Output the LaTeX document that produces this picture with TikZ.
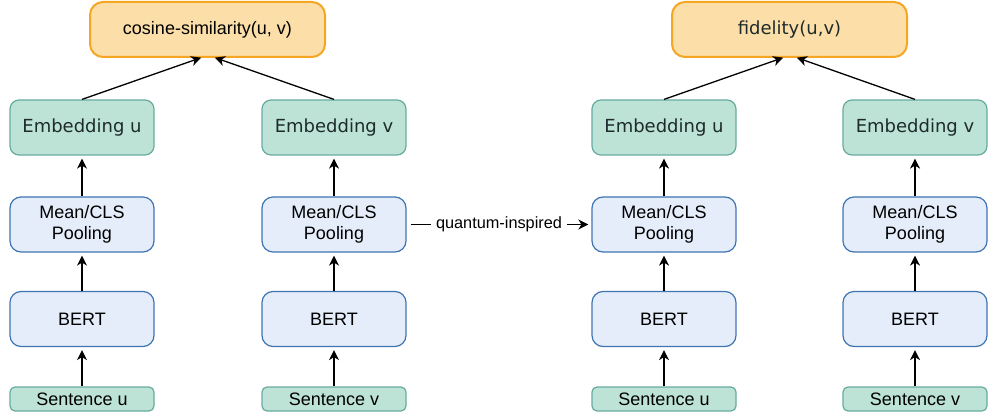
\documentclass[tikz,border=0pt]{standalone}
\usepackage{fontspec}
\setmainfont{Liberation Sans}
\newfontfamily\dejavu{DejaVu Sans}
\usetikzlibrary{arrows.meta}
\definecolor{embfill}{HTML}{BDE3D6}
\definecolor{embdraw}{HTML}{67AB9F}
\definecolor{poolfill}{HTML}{E5EDFA}
\definecolor{pooldraw}{HTML}{3F74B3}
\definecolor{topfill}{HTML}{FCDEA8}
\definecolor{topdraw}{HTML}{F5A623}
\definecolor{embtext}{HTML}{1E2B2B}
\tikzset{
  embbox/.style={draw=embdraw, fill=embfill, line width=1.2pt, rounded corners=9pt,
    minimum width=144pt, minimum height=55pt, inner sep=0pt, font=\dejavu\fontsize{18}{21}\selectfont, text=embtext},
  poolbox/.style={draw=pooldraw, fill=poolfill, line width=1.2pt, rounded corners=11pt,
    minimum width=144pt, minimum height=55pt, inner sep=0pt, align=center, font=\fontsize{18}{21.5}\selectfont},
  sentbox/.style={draw=embdraw, fill=embfill, line width=1.2pt, rounded corners=5pt,
    minimum width=144pt, minimum height=24pt, inner sep=0pt, font=\fontsize{18}{21}\selectfont},
  topbox/.style={draw=topdraw, fill=topfill, line width=2pt, rounded corners=13pt,
    minimum width=235pt, minimum height=55pt, inner sep=0pt},
  arr/.style={-{Stealth[length=10pt,width=10pt,inset=3pt]}, line width=1.6pt, shorten >=3pt},
  darr/.style={-{Stealth[length=10pt,width=10pt,inset=3pt]}, line width=1.3pt, shorten >=2pt},
}
\begin{document}
\begin{tikzpicture}[x=1pt,y=-1pt]
\useasboundingbox (0,0) rectangle (988,414);
% top nodes
\node[topbox, font=\fontsize{18}{21}\selectfont] (cos) at (207.5,29.5) {cosine-similarity(u, v)};
\node[topbox, font=\dejavu\fontsize{18}{21}\selectfont, text=embtext] (fid) at (789.5,29.5) {fidelity(u,v)};
% columns
\foreach \n/\x/\l in {a/82/u, b/334/v, c/664/u, d/915/v}{
  \node[embbox] (emb\n) at (\x,127.5) {Embedding \l};
  \node[poolbox] (pool\n) at (\x,224.5) {Mean/CLS\\Pooling};
  \node[poolbox] (bert\n) at (\x,319) {BERT};
  \node[sentbox] (sent\n) at (\x,399) {Sentence \l};
  \draw[arr] (sent\n) -- (bert\n);
  \draw[arr] (bert\n) -- (pool\n);
  \draw[arr] (pool\n) -- (emb\n);
}
\coordinate (cosl) at (203,57);
\coordinate (cosr) at (213,57);
\coordinate (fidl) at (785,57);
\coordinate (fidr) at (795,57);
\draw[darr] (emba.north) -- (cosl);
\draw[darr] (embb.north) -- (cosr);
\draw[darr] (embc.north) -- (fidl);
\draw[darr] (embd.north) -- (fidr);
\draw[arr, shorten <=4pt] (poolb.east) -- node[fill=white, inner sep=5pt, font=\fontsize{16.3}{18}\selectfont] (qi) {quantum-inspired} (poolc.west);
\end{tikzpicture}
\end{document}
